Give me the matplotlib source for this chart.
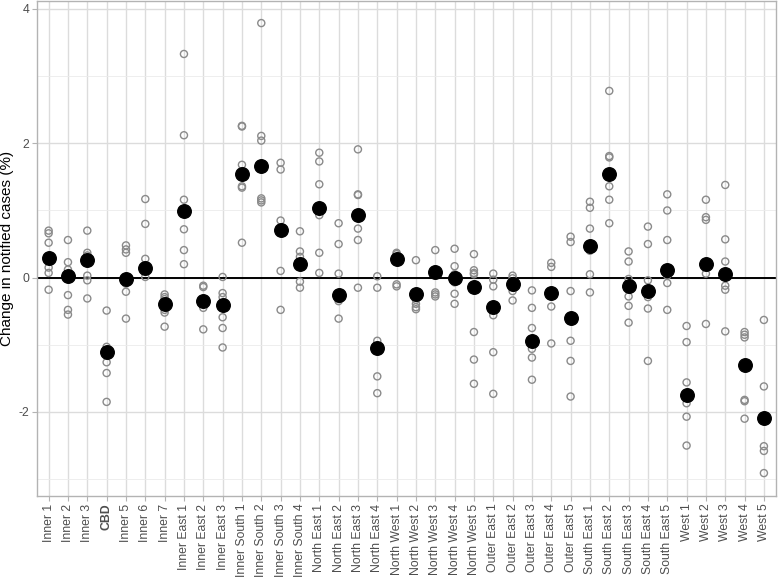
import matplotlib.pyplot as plt
from matplotlib.ticker import MultipleLocator

categories = ["Inner 1", "Inner 2", "Inner 3", "CBD", "Inner 5", "Inner 6", "Inner 7",
              "Inner East 1", "Inner East 2", "Inner East 3",
              "Inner South 1", "Inner South 2", "Inner South 3", "Inner South 4",
              "North East 1", "North East 2", "North East 3", "North East 4",
              "North West 1", "North West 2", "North West 3", "North West 4", "North West 5",
              "Outer East 1", "Outer East 2", "Outer East 3", "Outer East 4", "Outer East 5",
              "South East 1", "South East 2", "South East 3", "South East 4", "South East 5",
              "West 1", "West 2", "West 3", "West 4", "West 5"]

# mean change per area (black points)
mean_change = [0.29, 0.02, 0.26, -1.10, -0.02, 0.15, -0.39,
               0.99, -0.35, -0.40,
               1.54, 1.66, 0.71, 0.20,
               1.03, -0.26, 0.94, -1.05,
               0.28, -0.24, 0.08, 0.00, -0.14,
               -0.44, -0.09, -0.95, -0.23, -0.60,
               0.47, 1.55, -0.12, -0.20, 0.12,
               -1.75, 0.20, 0.06, -1.30, -2.09]

# individual estimates per area (hollow grey points)
point_change = [
    [0.70, 0.66, 0.52, 0.15, 0.07, -0.18],
    [0.56, 0.23, 0.12, -0.26, -0.48, -0.55],
    [0.70, 0.37, 0.33, 0.03, -0.04, -0.31],
    [-0.49, -1.03, -1.26, -1.42, -1.85],
    [0.48, 0.42, 0.37, -0.09, -0.21, -0.61],
    [1.17, 0.80, 0.28, 0.01, 0.10],
    [-0.25, -0.29, -0.32, -0.48, -0.52, -0.73],
    [3.33, 2.12, 1.16, 0.72, 0.41, 0.20],
    [-0.12, -0.14, -0.35, -0.45, -0.77],
    [0.01, -0.23, -0.29, -0.59, -0.75, -1.04],
    [2.26, 2.25, 1.68, 1.36, 1.34, 0.52],
    [3.79, 2.11, 2.04, 1.18, 1.15, 1.12],
    [1.71, 1.61, 0.85, 0.10, -0.48],
    [0.69, 0.39, 0.31, -0.06, -0.15],
    [1.86, 1.73, 1.39, 0.93, 0.37, 0.07],
    [0.81, 0.50, 0.06, -0.32, -0.35, -0.61],
    [1.91, 1.24, 1.23, 0.73, 0.56, -0.15],
    [0.02, -0.15, -0.94, -1.47, -1.72],
    [0.37, 0.35, -0.10, -0.13],
    [0.26, -0.30, -0.33, -0.39, -0.44, -0.47],
    [0.41, 0.12, -0.22, -0.25, -0.28],
    [0.43, 0.17, 0.05, -0.07, -0.24, -0.39],
    [0.35, 0.11, 0.07, 0.05, -0.81, -1.22, -1.58],
    [0.06, -0.03, -0.13, -0.56, -1.11, -1.73],
    [0.03, -0.01, -0.15, -0.20, -0.34],
    [-0.19, -0.45, -0.75, -1.06, -1.19, -1.52],
    [0.22, 0.16, -0.25, -0.43, -0.98],
    [0.61, 0.53, -0.20, -0.94, -1.24, -1.77],
    [1.13, 1.04, 0.73, 0.40, 0.05, -0.22],
    [2.78, 1.81, 1.79, 1.36, 1.16, 0.81],
    [0.39, 0.24, -0.02, -0.28, -0.42, -0.67],
    [0.76, 0.50, -0.04, -0.29, -0.46, -1.24],
    [1.24, 1.00, 0.56, 0.03, -0.08, -0.48],
    [-0.72, -0.96, -1.56, -1.87, -2.07, -2.50],
    [1.16, 0.90, 0.86, 0.06, -0.69],
    [1.38, 0.57, 0.24, -0.12, -0.18, -0.80],
    [-0.81, -0.85, -0.89, -1.82, -1.84, -2.10],
    [-0.63, -1.62, -2.51, -2.58, -2.91],
]

y_ticks = [-2, 0, 2, 4]
y_tick_labels = ["-2", "0", "2", "4"]

plt.rcParams["font.family"] = ["Liberation Sans", "DejaVu Sans"]

fig = plt.figure(figsize=(7.78, 5.78), dpi=100)
ax = fig.add_axes([0.0476, 0.142, 0.9492, 0.857])

# grid like ggplot theme_light
ax.set_axisbelow(True)
ax.yaxis.set_minor_locator(MultipleLocator(1))
ax.grid(True, which="major", color="#dcdcdc", linewidth=1.0)
ax.grid(True, which="minor", axis="y", color="#ebebeb", linewidth=0.6)

for i in range(len(categories)):
    ax.scatter([i] * len(point_change[i]), point_change[i], s=26,
               facecolors="none", edgecolors="#8a8a8a", linewidths=1.0, zorder=3)

ax.axhline(0, color="black", linewidth=1.4, zorder=2)
ax.scatter(range(len(categories)), mean_change, s=95, color="black", zorder=4)

ax.set_xlim(-0.6, len(categories) - 0.4)
ax.set_ylim(-3.25, 4.125)
ax.set_yticks(y_ticks)
ax.set_yticklabels(y_tick_labels)
ax.set_xticks(range(len(categories)))
ax.set_xticklabels(categories, rotation=90, ha="center", va="top")
for lab in ax.get_xticklabels():
    if lab.get_text() == "CBD":
        lab.set_fontweight("bold")

ax.tick_params(axis="both", colors="#b3b3b3", labelcolor="#4d4d4d",
               labelsize=8.8, length=3.5, width=0.8, pad=2)
ax.tick_params(axis="y", which="minor", length=0)
for sp in ax.spines.values():
    sp.set_color("#b3b3b3")
    sp.set_linewidth(1.0)

ax.set_ylabel("Change in notified cases (%)", fontsize=11, labelpad=3)

fig.savefig("out.png", dpi=100)
